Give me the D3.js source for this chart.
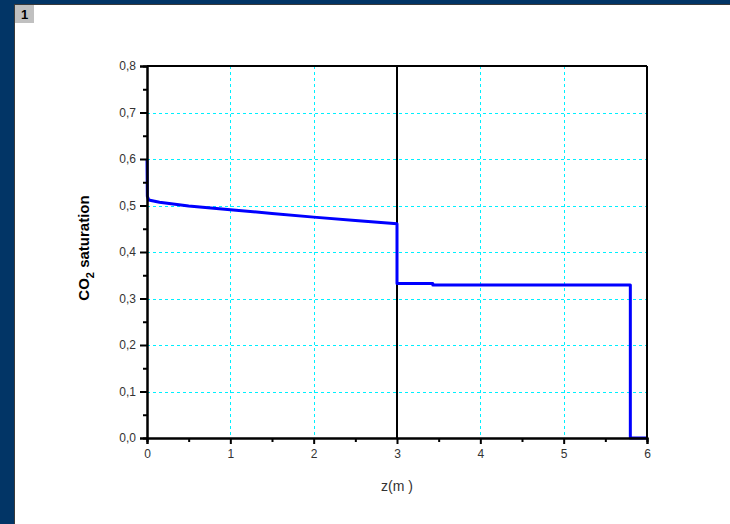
<!DOCTYPE html>
<html>
<head>
<script src="https://d3js.org/d3.v7.min.js"></script>
<style>
  body { margin: 0; background: #fff; }
  svg { display: block; }
</style>
</head>
<body>
<svg id="chart"></svg>
<script>
// data
const zVals   = [0, 0.004, 0.02, 0.15, 0.5, 1.0, 1.5, 2.0, 2.5, 3.0, 3.0, 3.43, 3.43, 5.8, 5.8, 6.0];
const satVals = [0.6, 0.52, 0.512, 0.507, 0.499, 0.491, 0.483, 0.475, 0.468, 0.461, 0.332, 0.332, 0.329, 0.329, 0.0, 0.0];
const xTicks = [0, 1, 2, 3, 4, 5, 6];
const yTicks = [0, 0.1, 0.2, 0.3, 0.4, 0.5, 0.6, 0.7, 0.8];
const interfaceZ = 3;

const width = 730, height = 524;
const svg = d3.select("#chart").attr("width", width).attr("height", height);

// window frame
svg.append("rect").attr("x", 0).attr("y", 0).attr("width", width).attr("height", 4).attr("fill", "#023566");
svg.append("rect").attr("x", 0).attr("y", 0).attr("width", 14).attr("height", height).attr("fill", "#023566");
svg.append("line").attr("x1", 14).attr("x2", width).attr("y1", 4.5).attr("y2", 4.5).attr("stroke", "#3a3a3a");
svg.append("line").attr("x1", 14.5).attr("x2", 14.5).attr("y1", 4).attr("y2", height).attr("stroke", "#3a3a3a");
svg.append("rect").attr("x", 15).attr("y", 5).attr("width", 19).attr("height", 18).attr("fill", "#c0c0c0");
svg.append("text").attr("x", 24.5).attr("y", 19).attr("text-anchor", "middle")
  .style("font", "bold 13px 'Liberation Sans', Arial, sans-serif").text("1");

const x = d3.scaleLinear().domain([0, 6]).range([147, 647]);
const y = d3.scaleLinear().domain([0, 0.8]).range([438, 66]);
const fmt = d => d3.format(".1f")(d).replace(".", ",");

// grid
const grid = svg.append("g").attr("stroke", "#00f0ff").attr("stroke-width", 1)
  .attr("stroke-dasharray", "3,3").attr("shape-rendering", "crispEdges");
grid.selectAll("line.gx").data(xTicks.slice(1, -1)).join("line").attr("class", "gx")
  .attr("x1", d => Math.round(x(d)) + 0.5).attr("x2", d => Math.round(x(d)) + 0.5)
  .attr("y1", y(0.8)).attr("y2", y(0));
grid.selectAll("line.gy").data(yTicks.slice(1, -1)).join("line").attr("class", "gy")
  .attr("x1", x(0)).attr("x2", x(6))
  .attr("y1", d => Math.round(y(d)) + 0.5).attr("y2", d => Math.round(y(d)) + 0.5);

// interface line
svg.append("line").attr("x1", x(interfaceZ)).attr("x2", x(interfaceZ))
  .attr("y1", y(0.8)).attr("y2", y(0)).attr("stroke", "#000").attr("stroke-width", 2);

// curve
const line = d3.line().x((d, i) => x(zVals[i])).y(d => y(d));
svg.append("path").datum(satVals).attr("d", line)
  .attr("fill", "none").attr("stroke", "#0000ff").attr("stroke-width", 3).attr("stroke-linejoin", "round");

// box
svg.append("line").attr("x1", x(0)).attr("x2", x(6)).attr("y1", y(0.8)).attr("y2", y(0.8)).attr("stroke", "#000").attr("stroke-width", 2);
svg.append("line").attr("x1", x(6)).attr("x2", x(6)).attr("y1", y(0.8)).attr("y2", y(0)).attr("stroke", "#000").attr("stroke-width", 2);

// axes
const tickFont = "12px 'Liberation Sans', Arial, sans-serif";
const xAxis = svg.append("g").attr("transform", `translate(0,${y(0)})`)
  .call(d3.axisBottom(x).tickValues(xTicks).tickFormat(d3.format("d")).tickSize(6).tickPadding(5));
const xMinor = svg.append("g").attr("transform", `translate(0,${y(0)})`)
  .call(d3.axisBottom(x).tickValues(d3.range(0.5, 6, 1)).tickFormat("").tickSize(4));
const yAxis = svg.append("g").attr("transform", `translate(${x(0)},0)`)
  .call(d3.axisLeft(y).tickValues(yTicks).tickFormat(fmt).tickSize(7).tickPadding(4));
const yMinor = svg.append("g").attr("transform", `translate(${x(0)},0)`)
  .call(d3.axisLeft(y).tickValues(d3.range(0.05, 0.8, 0.1)).tickFormat("").tickSize(4));
[xAxis, xMinor, yAxis, yMinor].forEach(g => {
  g.select(".domain").attr("stroke", "#000").attr("stroke-width", 2);
  g.selectAll(".tick line").attr("stroke", "#000").attr("stroke-width", 2);
  g.selectAll("text").style("font", tickFont).attr("fill", "#333");
});

// labels
svg.append("text").attr("x", 397).attr("y", 491).attr("text-anchor", "middle")
  .style("font", "14px 'Liberation Sans', Arial, sans-serif").attr("fill", "#333").text("z(m )");
const yl = svg.append("text").attr("transform", "translate(89,248) rotate(-90)").attr("text-anchor", "middle")
  .style("font", "bold 15px 'Liberation Sans', Arial, sans-serif").attr("fill", "#000");
yl.append("tspan").text("CO");
yl.append("tspan").attr("dy", 5).style("font-size", "11px").text("2");
yl.append("tspan").attr("dy", -5).text(" saturation");
</script>
</body>
</html>
